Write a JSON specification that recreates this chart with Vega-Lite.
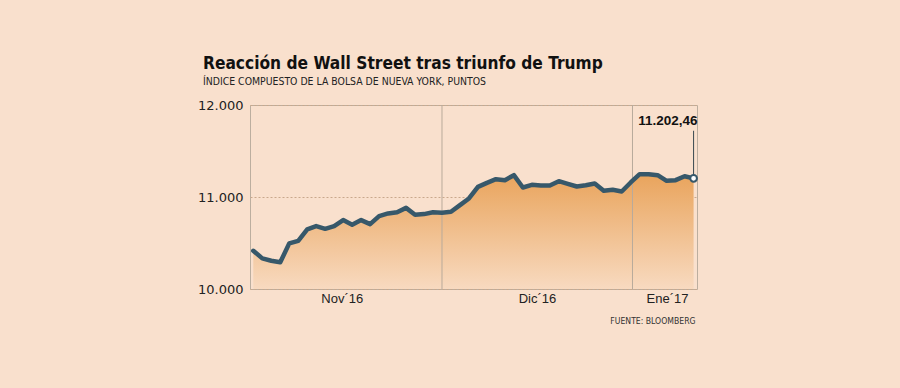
{
  "$schema": "https://vega.github.io/schema/vega-lite/v6.json",
  "width": 447,
  "height": 184,
  "autosize": {"type": "none"},
  "padding": {"left": 250, "top": 105, "right": 203, "bottom": 99},
  "background": "#f9e0cd",
  "title": {
    "text": "Reacción de Wall Street tras triunfo de Trump",
    "subtitle": "ÍNDICE COMPUESTO DE LA BOLSA DE NUEVA YORK, PUNTOS",
    "anchor": "start",
    "frame": "group",
    "dx": -47,
    "offset": 12,
    "font": "Liberation Sans Narrow, DejaVu Sans Condensed, Roboto, sans-serif",
    "fontSize": 17.2,
    "fontWeight": "bold",
    "color": "#111111",
    "subtitleFont": "Liberation Sans Narrow, DejaVu Sans Condensed, Roboto, sans-serif",
    "subtitleFontSize": 10.4,
    "subtitleColor": "#222222",
    "subtitlePadding": 4
  },
  "config": {
    "locale": {"number": {"decimal": ",", "thousands": ".", "grouping": [3], "currency": ["", " €"]}},
    "view": {"stroke": "#bcae9f", "strokeWidth": 1},
    "axis": {"domain": false, "ticks": false}
  },
  "datasets": {
    "indice": [
      {"fecha": "2016-11-01", "i": 0, "valor": 10415},
      {"fecha": "2016-11-02", "i": 1, "valor": 10333},
      {"fecha": "2016-11-03", "i": 2, "valor": 10307},
      {"fecha": "2016-11-04", "i": 3, "valor": 10290},
      {"fecha": "2016-11-07", "i": 4, "valor": 10496},
      {"fecha": "2016-11-08", "i": 5, "valor": 10524},
      {"fecha": "2016-11-09", "i": 6, "valor": 10648},
      {"fecha": "2016-11-10", "i": 7, "valor": 10684},
      {"fecha": "2016-11-11", "i": 8, "valor": 10654},
      {"fecha": "2016-11-14", "i": 9, "valor": 10684},
      {"fecha": "2016-11-15", "i": 10, "valor": 10749},
      {"fecha": "2016-11-16", "i": 11, "valor": 10698},
      {"fecha": "2016-11-17", "i": 12, "valor": 10749},
      {"fecha": "2016-11-18", "i": 13, "valor": 10705},
      {"fecha": "2016-11-21", "i": 14, "valor": 10792},
      {"fecha": "2016-11-22", "i": 15, "valor": 10821},
      {"fecha": "2016-11-23", "i": 16, "valor": 10835},
      {"fecha": "2016-11-25", "i": 17, "valor": 10882},
      {"fecha": "2016-11-28", "i": 18, "valor": 10806},
      {"fecha": "2016-11-29", "i": 19, "valor": 10814},
      {"fecha": "2016-11-30", "i": 20, "valor": 10835},
      {"fecha": "2016-12-01", "i": 21, "valor": 10830},
      {"fecha": "2016-12-02", "i": 22, "valor": 10839},
      {"fecha": "2016-12-05", "i": 23, "valor": 10912},
      {"fecha": "2016-12-06", "i": 24, "valor": 10984},
      {"fecha": "2016-12-07", "i": 25, "valor": 11110},
      {"fecha": "2016-12-08", "i": 26, "valor": 11154},
      {"fecha": "2016-12-09", "i": 27, "valor": 11194},
      {"fecha": "2016-12-12", "i": 28, "valor": 11183},
      {"fecha": "2016-12-13", "i": 29, "valor": 11237},
      {"fecha": "2016-12-14", "i": 30, "valor": 11103},
      {"fecha": "2016-12-15", "i": 31, "valor": 11132},
      {"fecha": "2016-12-16", "i": 32, "valor": 11125},
      {"fecha": "2016-12-19", "i": 33, "valor": 11125},
      {"fecha": "2016-12-20", "i": 34, "valor": 11172},
      {"fecha": "2016-12-21", "i": 35, "valor": 11143},
      {"fecha": "2016-12-22", "i": 36, "valor": 11114},
      {"fecha": "2016-12-23", "i": 37, "valor": 11128},
      {"fecha": "2016-12-27", "i": 38, "valor": 11147},
      {"fecha": "2016-12-28", "i": 39, "valor": 11067},
      {"fecha": "2016-12-29", "i": 40, "valor": 11078},
      {"fecha": "2016-12-30", "i": 41, "valor": 11060},
      {"fecha": "2017-01-03", "i": 42, "valor": 11158},
      {"fecha": "2017-01-04", "i": 43, "valor": 11248},
      {"fecha": "2017-01-05", "i": 44, "valor": 11248},
      {"fecha": "2017-01-06", "i": 45, "valor": 11237},
      {"fecha": "2017-01-09", "i": 46, "valor": 11176},
      {"fecha": "2017-01-10", "i": 47, "valor": 11183},
      {"fecha": "2017-01-11", "i": 48, "valor": 11226},
      {"fecha": "2017-01-12", "i": 49, "valor": 11202.46}
    ],
    "meses": [
      {"fecha": "2016-12-01", "i": 21},
      {"fecha": "2017-01-03", "i": 42.2}
    ]
  },
  "layer": [
    {
      "data": {"name": "indice"},
      "mark": {
        "type": "area",
        "fill": {
          "gradient": "linear",
          "x1": 0, "y1": 0, "x2": 0, "y2": 1,
          "stops": [
            {"offset": 0, "color": "#e9a45c"},
            {"offset": 1, "color": "#f8dac0"}
          ]
        }
      },
      "encoding": {
        "x": {
          "field": "i",
          "type": "quantitative",
          "scale": {"domain": [-0.367, 49.38], "nice": false, "zero": false},
          "axis": {
            "values": [9.84, 31.57, 46.04],
            "labelExpr": "datum.value < 20 ? 'Nov´16' : datum.value < 40 ? 'Dic´16' : 'Ene´17'",
            "grid": false,
            "labelFont": "Liberation Sans",
            "labelFontSize": 13,
            "labelColor": "#222222",
            "labelPadding": 3,
            "title": "FUENTE: BLOOMBERG",
            "titleAnchor": "end",
            "titleAlign": "right",
            "titleFont": "Liberation Sans Narrow, DejaVu Sans Condensed, Roboto, sans-serif",
            "titleFontSize": 8.6,
            "titleFontWeight": "normal",
            "titleColor": "#333333",
            "titlePadding": 11,
            "titleX": 445
          }
        },
        "y": {
          "field": "valor",
          "type": "quantitative",
          "scale": {"domain": [10000, 12000], "nice": false, "zero": false},
          "axis": {
            "values": [10000, 11000, 12000],
            "format": ",.0f",
            "labelFont": "DejaVu Sans",
            "labelFontSize": 13,
            "labelColor": "#222222",
            "labelPadding": 7,
            "grid": true,
            "gridColor": "#c9a88c",
            "gridDash": [2, 2],
            "gridWidth": 1,
            "title": null
          }
        },
        "y2": {"datum": 10000}
      }
    },
    {
      "data": {"name": "meses"},
      "mark": {"type": "rule", "color": "#b9aa9b", "strokeWidth": 1},
      "encoding": {"x": {"field": "i", "type": "quantitative"}}
    },
    {
      "data": {"name": "indice"},
      "mark": {"type": "line", "color": "#37586a", "strokeWidth": 4.5, "strokeJoin": "round", "strokeCap": "round"},
      "encoding": {
        "x": {"field": "i", "type": "quantitative"},
        "y": {"field": "valor", "type": "quantitative"}
      }
    },
    {
      "data": {"name": "indice"},
      "transform": [{"filter": "datum.i == 49"}],
      "mark": {"type": "rule", "color": "#37474f", "strokeWidth": 1},
      "encoding": {
        "x": {"field": "i", "type": "quantitative"},
        "y": {"field": "valor", "type": "quantitative"},
        "y2": {"datum": 11720}
      }
    },
    {
      "data": {"name": "indice"},
      "transform": [{"filter": "datum.i == 49"}],
      "mark": {"type": "point", "filled": true, "fill": "#ffffff", "stroke": "#37586a", "strokeWidth": 2, "size": 45, "opacity": 1},
      "encoding": {
        "x": {"field": "i", "type": "quantitative"},
        "y": {"field": "valor", "type": "quantitative"}
      }
    },
    {
      "data": {"name": "indice"},
      "transform": [{"filter": "datum.i == 49"}],
      "mark": {"type": "text", "align": "right", "baseline": "bottom", "dx": 4, "font": "Liberation Sans", "fontSize": 13.5, "fontWeight": "bold", "color": "#111111"},
      "encoding": {
        "x": {"field": "i", "type": "quantitative"},
        "y": {"datum": 11745},
        "text": {"field": "valor", "type": "quantitative", "format": ",.2f"}
      }
    }
  ]
}
